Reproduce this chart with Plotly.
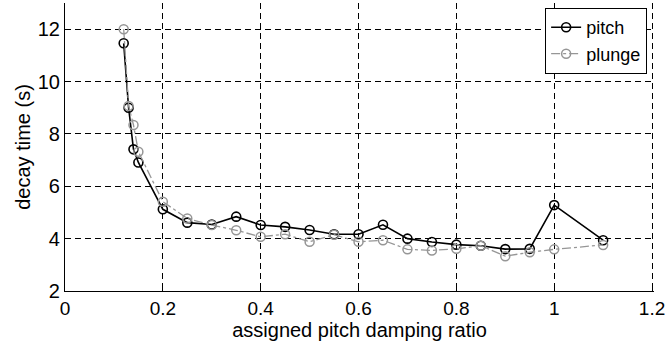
import plotly.graph_objects as go

damping = [0.12, 0.13, 0.14, 0.15, 0.2, 0.25, 0.3, 0.35, 0.4, 0.45, 0.5, 0.55,
           0.6, 0.65, 0.7, 0.75, 0.8, 0.85, 0.9, 0.95, 1.0, 1.1]
pitch = [11.46, 9.0, 7.41, 6.91, 5.12, 4.61, 4.54, 4.84, 4.52, 4.45, 4.33, 4.17,
         4.17, 4.53, 4.0, 3.87, 3.77, 3.73, 3.6, 3.61, 5.28, 3.94]
plunge = [12.0, 9.07, 8.34, 7.32, 5.41, 4.77, 4.52, 4.32, 4.07, 4.17, 3.88, 4.15,
          3.88, 3.94, 3.59, 3.55, 3.61, 3.73, 3.33, 3.48, 3.59, 3.76]

x_ticks = [0, 0.2, 0.4, 0.6, 0.8, 1.0, 1.2]
x_tick_text = ["0", "0.2", "0.4", "0.6", "0.8", "1", "1.2"]
y_ticks = [2, 4, 6, 8, 10, 12]
y_tick_text = ["2", "4", "6", "8", "10", "12"]

FONT = "Arial"
GREY = "rgb(150,150,150)"
FS = 20

fig = go.Figure()
fig.add_trace(go.Scatter(
    x=damping, y=pitch, name="pitch", mode="lines+markers",
    line=dict(color="black", width=1.6),
    marker=dict(symbol="circle-open", size=9, color="black", line=dict(width=1.6)),
))
fig.add_trace(go.Scatter(
    x=damping, y=plunge, name="plunge", mode="lines+markers",
    line=dict(color=GREY, width=1.3, dash="dashdot"),
    marker=dict(symbol="circle-open", size=9, color=GREY, line=dict(width=1.5)),
))

axis_common = dict(
    showgrid=True, gridcolor="black", gridwidth=1, griddash="6px,4px",
    zeroline=False, showline=True, linecolor="black", linewidth=1.2,
    ticks="inside", ticklen=5, tickcolor="black", automargin=False,
    ticklabeloverflow="allow",
)

fig.update_layout(
    width=666, height=342,
    margin=dict(l=65, r=12, t=3, b=51),
    paper_bgcolor="white", plot_bgcolor="white",
    font=dict(family=FONT, size=FS, color="black"),
    xaxis=dict(range=[0, 1.204], tickvals=x_ticks, ticktext=x_tick_text,
               tickfont=dict(family=FONT, size=19, color="black"),
               title=dict(text="assigned pitch damping ratio", standoff=0,
                          font=dict(family=FONT, size=FS)),
               **axis_common),
    yaxis=dict(range=[2, 13], tickvals=y_ticks, ticktext=y_tick_text,
               tickfont=dict(family=FONT, size=FS, color="black"),
               title=dict(text="decay time (s)", standoff=1,
                          font=dict(family=FONT, size=FS)),
               **axis_common),
    legend=dict(x=0.988, y=0.983, xanchor="right", yanchor="top",
                bgcolor="white", bordercolor="black", borderwidth=1.2,
                font=dict(family=FONT, size=18), tracegroupgap=0,
                itemwidth=30),
    showlegend=True,
)

fig.write_html("out.html",
               config={"displayModeBar": False},
               post_script="document.body.style.margin='0';document.body.style.overflow='hidden';")
